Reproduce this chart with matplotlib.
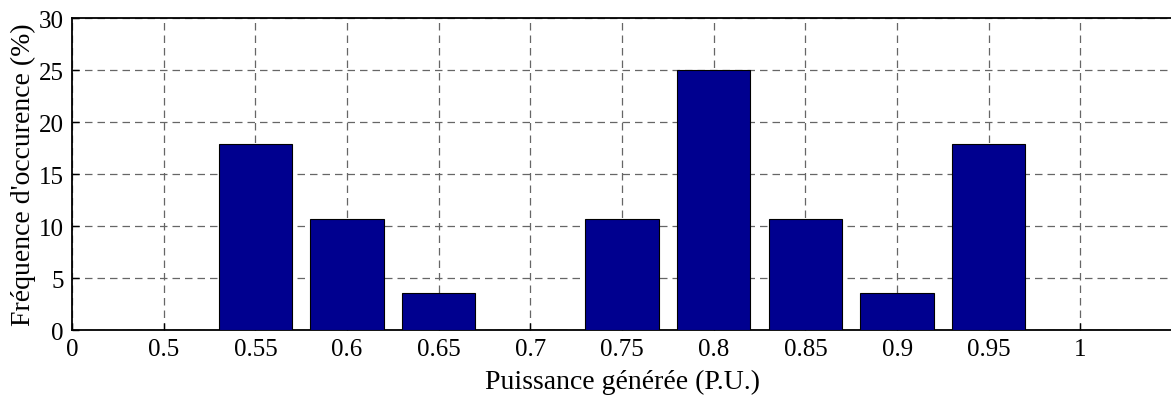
import matplotlib
matplotlib.use('Agg')
import matplotlib.pyplot as plt
import numpy as np

plt.rcParams['font.family'] = ['Liberation Serif', 'DejaVu Serif']
plt.rcParams['font.size'] = 18

# categories (power, P.U.) and frequency of occurrence (%)
labels = ['0', '0.5', '0.55', '0.6', '0.65', '0.7', '0.75', '0.8', '0.85', '0.9', '0.95', '1']
bar_labels = labels[1:]
freq = [0, 17.86, 10.71, 3.57, 0, 10.71, 25.0, 10.71, 3.57, 17.86, 0]

fig = plt.figure(figsize=(11.71, 4.02), dpi=100)
ax = fig.add_axes([0.0615, 0.1766, 0.9395, 0.776])

pos = np.arange(1, len(bar_labels) + 1)
ax.bar(pos, freq, width=0.8, color='#00008F', edgecolor='black', linewidth=0.8, zorder=3)

ax.set_xlim(0, 12)
ax.set_ylim(0, 30)
ax.set_xticks(np.arange(len(labels)))
ax.set_xticklabels(labels)
ax.set_yticks(np.arange(0, 31, 5))

ax.grid(True, linestyle=(0, (6, 4)), color='#666666', linewidth=0.9, zorder=0)
ax.set_axisbelow(True)
ax.tick_params(direction='in', length=5, width=1, pad=6)
for s in ax.spines.values():
    s.set_linewidth(1.3)

ax.set_xlabel('Puissance générée (P.U.)', fontsize=20, labelpad=6)
ax.set_ylabel("Fréquence d'occurence (%)", fontsize=20, labelpad=2)

fig.savefig('out.png', dpi=100)
